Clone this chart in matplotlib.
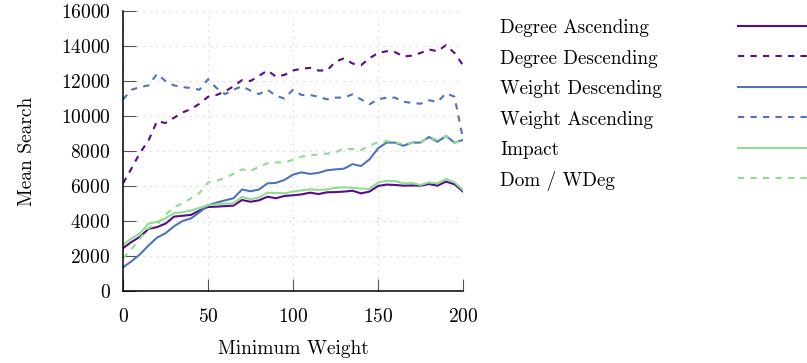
import matplotlib
matplotlib.use("Agg")
import matplotlib.pyplot as plt
from matplotlib.lines import Line2D
import numpy as np

plt.rcParams['font.family'] = 'serif'
plt.rcParams['font.serif'] = ['cmr10']
plt.rcParams['mathtext.fontset'] = 'cm'
plt.rcParams['axes.formatter.use_mathtext'] = True

# minimum weight, sampled every 5
min_weight = list(range(0, 201, 5))

degree_asc = [2450, 2800, 3100, 3550, 3650, 3850, 4250, 4300, 4350, 4600,
              4800, 4820, 4850, 4880, 5200, 5100, 5180, 5390, 5300, 5430,
              5470, 5520, 5620, 5540, 5640, 5650, 5680, 5730, 5580, 5680,
              6000, 6080, 6060, 6020, 6030, 6020, 6110, 6020, 6250, 6100, 5680]

degree_desc = [6150, 7000, 7900, 8600, 9700, 9600, 9900, 10200, 10400, 10700,
               11100, 11200, 11400, 11700, 12050, 12000, 12300, 12600, 12250, 12350,
               12600, 12700, 12750, 12600, 12600, 13100, 13300, 13000, 12900, 13300,
               13600, 13700, 13650, 13400, 13450, 13600, 13800, 13700, 14050, 13600, 12900]

weight_desc = [1350, 1700, 2100, 2600, 3050, 3300, 3700, 4000, 4150, 4500,
               4900, 5050, 5180, 5300, 5800, 5700, 5800, 6150, 6180, 6350,
               6650, 6780, 6690, 6750, 6900, 6950, 6990, 7250, 7140, 7520,
               8150, 8480, 8480, 8300, 8480, 8480, 8800, 8530, 8860, 8480, 8630]

weight_asc = [10950, 11500, 11650, 11750, 12400, 12000, 11750, 11650, 11600, 11500,
              12100, 11600, 11250, 11500, 11700, 11450, 11250, 11500, 11150, 11000,
              11500, 11200, 11200, 11100, 10950, 11050, 11050, 11240, 10950, 10670,
              10950, 11050, 11050, 10810, 10750, 10700, 10900, 10800, 11300, 11100, 8700]

impact = [2650, 3000, 3300, 3850, 3950, 4150, 4450, 4500, 4600, 4750,
          4900, 4950, 5000, 5000, 5380, 5240, 5350, 5620, 5600, 5580,
          5680, 5750, 5810, 5780, 5800, 5900, 5920, 5900, 5850, 5830,
          6200, 6290, 6280, 6150, 6170, 6060, 6210, 6150, 6400, 6210, 5770]

dom_wdeg = [1870, 2400, 3000, 3600, 3800, 4350, 4800, 5000, 5300, 5600,
            6200, 6300, 6450, 6700, 6950, 6850, 7100, 7300, 7350, 7350,
            7500, 7680, 7750, 7800, 7850, 7920, 8150, 8100, 8060, 8300,
            8500, 8570, 8500, 8380, 8450, 8500, 8780, 8630, 8860, 8480, 8570]

purple = '#5a0a8c'
blue = '#4d74bb'
green = '#90dc90'
dash = (0, (3, 3))

W, H = 807, 363
fig = plt.figure(figsize=(W / 100, H / 100), dpi=100)
ax = fig.add_axes([123 / W, 1 - 291 / H, 340 / W, 280 / H])

ax.plot(min_weight, degree_asc, color=purple, lw=1.5, label='Degree Ascending')
ax.plot(min_weight, degree_desc, color=purple, lw=1.5, ls=dash, label='Degree Descending')
ax.plot(min_weight, weight_desc, color=blue, lw=1.5, label='Weight Descending')
ax.plot(min_weight, weight_asc, color=blue, lw=1.5, ls=dash, label='Weight Ascending')
ax.plot(min_weight, impact, color=green, lw=1.5, label='Impact')
ax.plot(min_weight, dom_wdeg, color=green, lw=1.5, ls=dash, label='Dom / WDeg')

ax.set_xlim(0, 200)
ax.set_ylim(0, 16000)
ax.set_xticks(range(0, 201, 50))
ax.set_yticks(range(0, 16001, 2000))
ax.grid(True, color='#c8c8c8', ls=(0, (1, 5)), lw=0.8)
ax.set_axisbelow(True)

for s in ['top', 'right']:
    ax.spines[s].set_visible(False)
for s in ['left', 'bottom']:
    ax.spines[s].set_linewidth(1.1)

ax.tick_params(direction='in', length=9, width=0.8, color='#555555', labelsize=14)
ax.tick_params(axis='x', pad=12)
ax.tick_params(axis='y', pad=9)
ax.set_xlabel('Minimum Weight', fontsize=14, labelpad=10)
ax.set_ylabel('Mean Search', fontsize=14, labelpad=18)

# legend: labels left-aligned, sample lines on the right (pgfplots style)
row0, step = 25.7, 30.5
for i, line in enumerate(ax.get_lines()):
    yc = row0 + i * step
    fig.text(500 / W, 1 - (yc + 7.5) / H, line.get_label(), fontsize=13.8,
             ha='left', va='baseline')
    fig.add_artist(Line2D([738 / W, 1.0], [1 - yc / H] * 2, transform=fig.transFigure,
                          color=line.get_color(), lw=line.get_linewidth(),
                          ls=line.get_linestyle() if line.get_linestyle() == '-' else dash))

fig.savefig('out.png', dpi=100)
